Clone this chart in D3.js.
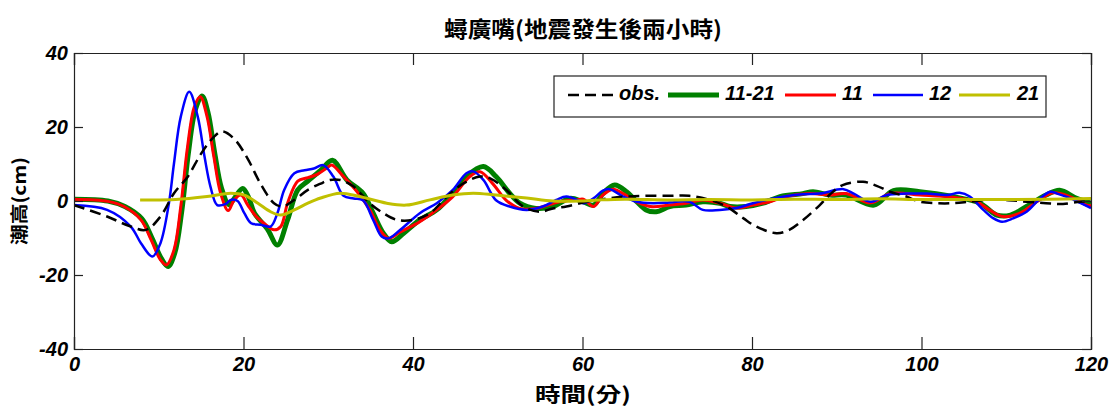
<!DOCTYPE html>
<html>
<head>
<meta charset="utf-8">
<script src="https://cdn.jsdelivr.net/npm/d3@7"></script>
<style>
  body { margin: 0; background: #fff; }
  text { font-family: "Liberation Sans", Arial, sans-serif; }
</style>
</head>
<body>
<div id="chart"></div>
<script>
// series data: [minutes, cm]
var obs = [[0,-1.1],[3.9,-4.2],[6.7,-6.9],[8.5,-7.8],[10.2,-4.2],[11.8,2.1],[13.4,6.5],[15,12.8],[16.5,17.3],[17.5,18.8],[18.9,16.8],[20.5,11.4],[22,4.7],[23.6,-0.6],[24.6,-1.5],[26,0.3],[27.6,3],[29.1,4.7],[30.2,5.7],[31.4,5.7],[33,3.9],[34.9,-0.6],[36.5,-3.3],[38.1,-5.1],[40,-5.1],[42,-3.3],[44,1.2],[45.9,4.7],[47.9,6.6],[49.1,6.1],[51,3],[53,-1.5],[55,-2.9],[56.5,-2],[58.1,-1.5],[60.5,-0.2],[63,0.7],[65.2,1.2],[67.5,1.4],[70.3,1.4],[72.6,1.4],[75,0.3],[77,-1.5],[79,-4.7],[80.5,-6.9],[82.9,-8.7],[84.4,-7.8],[86,-5.2],[88,-1.1],[89.3,2],[90.7,4.3],[93.1,5.2],[94.7,4.1],[96.3,2.5],[98.2,1.2],[99.8,-0.2],[101.8,-0.6],[103.7,-0.6],[105.7,-0.2],[108.5,0.4],[110,0.3],[112.4,-0.2],[114.7,-0.6],[116.7,-0.8],[118.7,-0.2],[120,-0.2]];

var s1121 = [[0,0.5],[4,0],[6,-1.5],[8,-4.8],[9.2,-10],[10.3,-15.5],[11.1,-17.7],[11.9,-14],[12.7,-3],[13.5,13],[14.3,24.5],[15.1,28.4],[15.8,24],[16.6,13],[17.4,3.5],[18.3,-1],[19,1],[19.9,3.4],[20.6,1],[21.3,-3.3],[22.8,-7.5],[24,-11.9],[25.2,-5.1],[26.4,3],[27.6,5.4],[29.1,8.3],[30.5,11],[32.2,5.7],[34.1,2.1],[35.3,-3.3],[36.5,-8.7],[37.5,-11],[38.9,-8.7],[40.8,-5.1],[42.8,-2.4],[44.7,2.1],[46.3,6.6],[48.3,9.3],[49.8,6.6],[51.4,2.1],[52.6,-0.6],[54.5,-2],[56.5,-1.5],[58.5,0.7],[60.1,-0.2],[61.3,-1.1],[62.4,2],[63.8,4.3],[65.2,2.5],[66.4,-0.2],[67.5,-2.4],[68.7,-2.9],[70.3,-1.5],[72.2,-1.1],[74.2,-0.2],[76.2,-0.6],[77.4,-1.5],[79.3,-1.5],[81.3,-0.6],[83.3,1.2],[86,2],[87.2,2.5],[89.2,1.6],[91.1,1.6],[94.4,-1.1],[96.7,2.8],[99.8,2.5],[103.7,1.2],[106.9,-0.6],[108.9,-3.8],[110.5,-3.8],[112.4,-1.5],[114.7,1.6],[116.3,2.9],[118.3,0.7],[120,-0.6]];

var s11 = [[0,0.5],[4,-0.1],[5.9,-1.5],[7.9,-5.1],[9.1,-10.5],[10.2,-15.9],[10.9,-17.3],[11.8,-13.2],[12.6,-1.5],[13.4,14.7],[14.2,25.5],[14.9,28.2],[15.7,22.8],[16.5,12],[17.3,2.1],[18.2,-2.6],[18.9,0.3],[19.7,1.6],[20.5,-1.1],[21.5,-4.2],[22.4,-6],[23.6,-7.8],[24.4,-6.9],[25.2,-0.6],[26.4,5.4],[27.6,6.3],[28.7,7.2],[29.9,9],[30.4,9.7],[31.8,6.6],[33.7,1.6],[34.9,-2.4],[36.1,-7.8],[37.1,-10.1],[38.4,-8.5],[40.8,-5.6],[42.8,-2.4],[44.7,1.2],[46.7,6.6],[47.9,7.9],[49.4,4.7],[51,0.2],[52.6,-2],[54.5,-2],[57.3,-0.2],[59.3,0.3],[60.1,0.5],[61.3,-1.5],[62.4,1.6],[63.6,3.2],[64.8,2],[66.4,-0.2],[68,-1.5],[70.3,-1.1],[72.2,-0.6],[74.2,0.3],[76.2,-0.6],[78.2,-1.9],[80.1,-1.1],[82.1,-0.2],[84,1.2],[86.8,2],[89.2,1.6],[91.1,2],[94,-0.5],[96.3,2],[99.8,1.6],[103.7,1],[106.5,-0.2],[108,-2.4],[109.6,-4.2],[111.6,-3.3],[113.6,-0.2],[115.5,2.2],[117.5,1.2],[119.5,-1.1],[120,-1.2]];

var s12 = [[0,-1.1],[3.9,-2.4],[6.7,-6.9],[7.9,-11.4],[9.25,-15],[10.2,-11.4],[11.2,-0.6],[11.8,10.2],[12.6,22.8],[13.6,29.5],[14.6,22.8],[15.4,12],[16.1,3.9],[16.9,-1.1],[17.9,-0.8],[18.5,0.3],[19.3,0],[20.1,-3.3],[20.9,-6],[22,-6.4],[23.2,-6.9],[24,-3.3],[24.8,3],[26,7.5],[27.2,8.3],[28.3,8.8],[29.4,9.7],[30.6,6.6],[31.8,1.4],[33,0.7],[34.1,0.2],[35.3,-5.1],[36.3,-9.6],[37.1,-10.1],[38.4,-8],[40.8,-3.3],[42.8,-0.6],[44.7,3],[46.3,7.5],[47.1,8],[48.3,5.7],[49.8,0.2],[51.4,-1.5],[53.4,-2.4],[55.3,-1.5],[56.9,0.3],[58.1,1.2],[59.6,0],[60.1,-0.6],[61.3,0.7],[62.4,2.8],[63.2,3.2],[64.8,1.2],[66.4,-0.2],[68.3,-0.6],[70.3,-0.4],[72.6,-0.2],[74.2,-2.4],[76.2,-2.4],[78.2,-1.9],[80.1,-0.6],[82.1,0.5],[84,1.3],[86,1.8],[88,2],[90.8,3.2],[92,2],[94,-0.2],[95.9,1.6],[98.2,2],[100.6,2],[103,1.6],[104.5,2.2],[105.7,1.2],[107.3,-2.4],[108.5,-4.7],[109.5,-5.6],[110.8,-4.7],[112.4,-2.9],[114,0.7],[115.2,2.5],[116,2],[117.6,0.7],[118.8,-0.6],[120,-1.9]];

var s21 = [[7.8,0.3],[12,0.4],[15.7,1.2],[18.5,2.1],[20.1,1.6],[21.7,-0.6],[23.2,-2.9],[24.4,-3.8],[26,-2.4],[27.6,-0.6],[29.1,0.8],[31.4,2.1],[33.7,1.2],[36.9,-0.6],[39.2,-1.1],[42,0.3],[44.7,1.6],[47.1,2.1],[49.8,1.6],[53.4,0.8],[56.5,0],[59.6,0],[62,0.3],[65,0.5],[70,0.3],[75,0.4],[80,0.3],[85,0.5],[90,0.4],[95,0.6],[100,0.4],[105,0.4],[110,0.4],[115,0.5],[120,0.7]];

var xTicks = [0, 20, 40, 60, 80, 100, 120];
var yTicks = [-40, -20, 0, 20, 40];
var seriesNames = ["obs.", "11-21", "11", "12", "21"];

var dimensions = {
    width: 1116,
    height: 410,
    margin: { top: 53, bottom: 61, left: 74, right: 25 }
}
var w = dimensions.width - dimensions.margin.left - dimensions.margin.right;
var h = dimensions.height - dimensions.margin.top - dimensions.margin.bottom;

var svg = d3.select("#chart")
    .append("svg")
    .attr("width", dimensions.width)
    .attr("height", dimensions.height);

var g = svg.append("g")
    .attr("transform", "translate(" + dimensions.margin.left + "," + dimensions.margin.top + ")");

var x = d3.scaleLinear().domain([0, 120]).range([0, w]);
var y = d3.scaleLinear().domain([-40, 40]).range([h, 0]);

// clip so lines stay inside the box
g.append("clipPath").attr("id", "clip")
    .append("rect").attr("width", w).attr("height", h);

var line = d3.line()
    .x(function (d) { return x(d[0]); })
    .y(function (d) { return y(d[1]); })
    .curve(d3.curveCatmullRom.alpha(0.5));

// styles per series
var styles = {
    "obs.": { data: obs, color: "#000", width: 2.5, dash: "11,6" },
    "11-21": { data: s1121, color: "#008000", width: 5, dash: null },
    "11": { data: s11, color: "#ff0000", width: 3, dash: null },
    "12": { data: s12, color: "#0000ff", width: 2.5, dash: null },
    "21": { data: s21, color: "#c0c000", width: 3, dash: null }
}

var drawOrder = ["11-21", "11", "12", "obs.", "21"];
var lines = g.append("g").attr("clip-path", "url(#clip)");
drawOrder.forEach(function (name) {
    var s = styles[name];
    lines.append("path")
        .datum(s.data)
        .attr("d", line)
        .attr("fill", "none")
        .attr("stroke", s.color)
        .attr("stroke-width", s.width)
        .attr("stroke-dasharray", s.dash)
        .attr("stroke-linejoin", "round");
});

// axes (MATLAB style, ticks pointing in, box all around)
var tickFont = "bold italic 20px 'Liberation Sans', Arial, sans-serif";
var plain = function (d) { return String(d); };
var xAxis = g.append("g")
    .attr("transform", "translate(0," + h + ")")
    .call(d3.axisBottom(x).tickValues(xTicks).tickSize(-12).tickFormat(plain));
var yAxis = g.append("g")
    .call(d3.axisLeft(y).tickValues(yTicks).tickSize(-9).tickFormat(plain));
g.append("g")
    .call(d3.axisTop(x).tickValues(xTicks).tickSize(-12).tickFormat(""));
g.append("g")
    .attr("transform", "translate(" + w + ",0)")
    .call(d3.axisRight(y).tickValues(yTicks).tickSize(-9).tickFormat(""));

g.selectAll(".domain").attr("stroke", "#222").attr("stroke-width", 1.2);
g.selectAll(".tick line").attr("stroke", "#222").attr("stroke-width", 1.2);
g.selectAll(".tick text").style("font", tickFont).attr("fill", "#000");
xAxis.selectAll(".tick text").attr("dy", "0.35em").attr("y", 15);
yAxis.selectAll(".tick text").attr("x", -6);

// title and axis labels
svg.append("text")
    .attr("x", 583).attr("y", 31)
    .attr("text-anchor", "middle")
    .attr("dominant-baseline", "middle")
    .style("font-family", "'Noto Sans CJK TC', sans-serif")
    .style("font-weight", "bold")
    .style("font-size", "22px")
    .attr("textLength", 278)
    .attr("lengthAdjust", "spacingAndGlyphs")
    .text("蟳廣嘴(地震發生後兩小時)");

svg.append("text")
    .attr("x", 583).attr("y", 397)
    .attr("text-anchor", "middle")
    .attr("dominant-baseline", "middle")
    .style("font-family", "'Noto Sans CJK TC', sans-serif")
    .style("font-weight", "bold")
    .style("font-size", "20px")
    .attr("textLength", 96)
    .attr("lengthAdjust", "spacingAndGlyphs")
    .text("時間(分)");

svg.append("text")
    .attr("transform", "translate(21,201) rotate(-90)")
    .attr("text-anchor", "middle")
    .attr("dominant-baseline", "middle")
    .style("font-family", "'Noto Sans CJK TC', sans-serif")
    .style("font-weight", "bold")
    .style("font-size", "18px")
    .attr("textLength", 88)
    .attr("lengthAdjust", "spacingAndGlyphs")
    .text("潮高(cm)");

// legend
var legend = svg.append("g");
legend.append("rect")
    .attr("x", 554).attr("y", 76)
    .attr("width", 492).attr("height", 41)
    .attr("fill", "#fff")
    .attr("stroke", "#222")
    .attr("stroke-width", 1.2);

var legendLine = { "obs.": [568, 613], "11-21": [668, 719], "11": [785, 836], "12": [873, 923], "21": [959, 1010] };
var legendText = { "obs.": 619, "11-21": 725, "11": 842, "12": 929, "21": 1017 };
seriesNames.forEach(function (name) {
    var s = styles[name];
    legend.append("line")
        .attr("x1", legendLine[name][0]).attr("x2", legendLine[name][1])
        .attr("y1", 95).attr("y2", 95)
        .attr("stroke", s.color)
        .attr("stroke-width", s.width)
        .attr("stroke-dasharray", name === "obs." ? "11,6" : null);
    legend.append("text")
        .attr("x", legendText[name]).attr("y", 95)
        .attr("dominant-baseline", "middle")
        .style("font", tickFont)
        .text(name);
});
</script>
</body>
</html>
